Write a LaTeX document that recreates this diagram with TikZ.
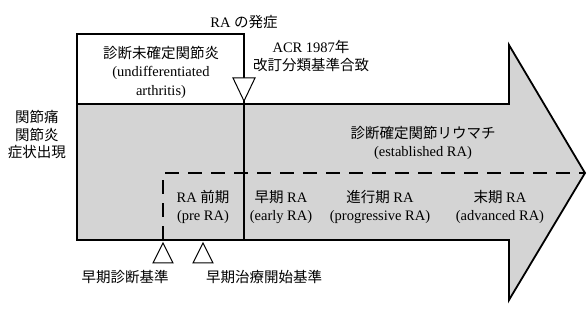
\documentclass[tikz,border=0pt]{standalone}
\usepackage{fontspec}
\setmainfont{Liberation Serif}
\newfontfamily\jp{Noto Sans CJK JP}
\usetikzlibrary{positioning, calc}

\begin{document}
\begin{tikzpicture}[
  x=1pt, y=-1pt,
  font=\fontsize{14.5}{18.5}\selectfont,
  outline/.style={draw, line width=1.8pt, line join=miter},
  shaded/.style={fill=black!17},
  phase/.style={line width=2.4pt, dash pattern=on 14pt off 9pt},
  tri/.style={draw, line width=1pt, fill=white, line join=miter},
  lbl/.style={align=center, inner sep=1pt}
]
\useasboundingbox (0,0) rectangle (587,320);
\path[outline, shaded] (77,104) -- (509,104) -- (509,45) -- (585,173)
  -- (509,300) -- (509,240) -- (77,240) -- cycle;
\path[outline, fill=white] (77,34) rectangle (244,104);
\coordinate (onsetpt) at (244,104);
\coordinate (basept) at (244,240);
\draw[outline] (onsetpt) -- (basept);
\coordinate (dashend) at (585,173);
\coordinate (dashcorner) at (163,173);
\coordinate (dashbase) at (163,240);
\draw[phase] (dashbase) -- (dashcorner) -- (dashend);
\draw[tri] (233,78) -- (255,78) -- (244,101) -- cycle;
\draw[tri] (163,243) -- (173,263) -- (153,263) -- cycle;
\draw[tri] (203,243) -- (213,263) -- (193,263) -- cycle;
\node (onset) at (244,22) {RA {\jp の発症}};
\node[lbl] (undiff) at (161,72) {{\jp 診断未確定関節炎}\\(undifferentiated\\arthritis)};
\node[lbl] (acr) at (311,56) {ACR 1987{\jp 年}\\{\jp 改訂分類基準合致}};
\node[lbl, font=\fontsize{14.5}{17.5}\selectfont] (symptom) at (37,135)
  {{\jp 関節痛}\\{\jp 関節炎}\\{\jp 症状出現}};
\node[lbl] (established) at (423,143) {{\jp 診断確定関節リウマチ}\\(established RA)};
\node[lbl] (pre) at (203,207) {RA {\jp 前期}\\(pre RA)};
\node[lbl] (early) at (281,207) {{\jp 早期} RA\\(early RA)};
\node[lbl] (prog) at (380,207) {{\jp 進行期} RA\\(progressive RA)};
\node[lbl] (adv) at (500,207) {{\jp 末期} RA\\(advanced RA)};
\node (diagcrit) at (125,277) {\jp 早期診断基準};
\node (treatcrit) at (264,277) {\jp 早期治療開始基準};
\end{tikzpicture}
\end{document}
